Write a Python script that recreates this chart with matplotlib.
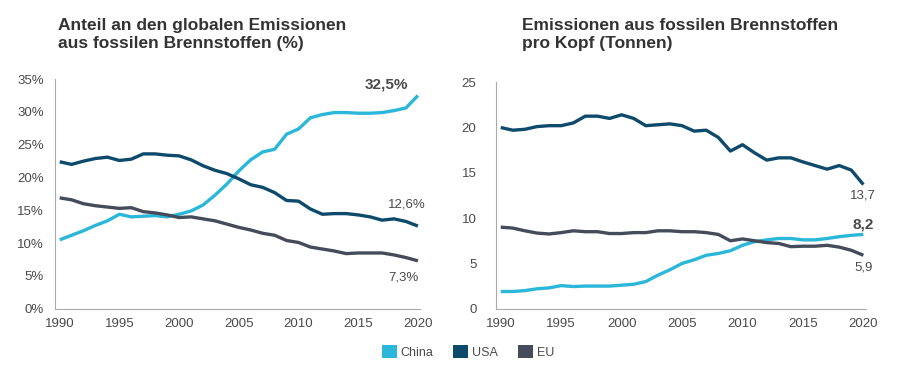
import matplotlib
matplotlib.use('Agg')
import matplotlib.pyplot as plt
from matplotlib.patches import Patch

plt.rcParams['font.family'] = ['Liberation Sans', 'DejaVu Sans']

years = list(range(1990, 2021))

# Anteil an den globalen Emissionen (%)
share_china = [10.5, 11.2, 11.9, 12.7, 13.4, 14.4, 14.0, 14.1, 14.2, 14.0,
               14.4, 14.9, 15.8, 17.3, 19.0, 21.0, 22.7, 23.9, 24.3, 26.6,
               27.4, 29.1, 29.6, 29.9, 29.9, 29.8, 29.8, 29.9, 30.2, 30.6, 32.5]
share_usa = [22.4, 22.0, 22.5, 22.9, 23.1, 22.6, 22.8, 23.6, 23.6, 23.4,
             23.3, 22.7, 21.8, 21.1, 20.6, 19.8, 18.9, 18.5, 17.7, 16.5,
             16.4, 15.2, 14.4, 14.5, 14.5, 14.3, 14.0, 13.5, 13.7, 13.3, 12.6]
share_eu = [16.9, 16.6, 16.0, 15.7, 15.5, 15.3, 15.4, 14.8, 14.6, 14.3,
            13.9, 14.0, 13.7, 13.4, 12.9, 12.4, 12.0, 11.5, 11.2, 10.4,
            10.1, 9.4, 9.1, 8.8, 8.4, 8.5, 8.5, 8.5, 8.2, 7.8, 7.3]

# Emissionen pro Kopf (Tonnen)
pc_china = [1.9, 1.9, 2.0, 2.2, 2.3, 2.55, 2.45, 2.5, 2.5, 2.5,
            2.6, 2.7, 3.0, 3.7, 4.3, 5.0, 5.4, 5.9, 6.1, 6.4,
            7.0, 7.4, 7.6, 7.75, 7.75, 7.6, 7.6, 7.75, 7.95, 8.1, 8.2]
pc_usa = [20.0, 19.7, 19.8, 20.1, 20.2, 20.2, 20.5, 21.25, 21.25, 21.0,
          21.4, 21.0, 20.2, 20.3, 20.4, 20.2, 19.6, 19.7, 18.9, 17.4,
          18.1, 17.2, 16.4, 16.65, 16.65, 16.2, 15.8, 15.4, 15.8, 15.3, 13.7]
pc_eu = [9.0, 8.9, 8.6, 8.35, 8.25, 8.4, 8.6, 8.5, 8.5, 8.3,
         8.3, 8.4, 8.4, 8.6, 8.6, 8.5, 8.5, 8.4, 8.2, 7.5,
         7.7, 7.5, 7.3, 7.2, 6.85, 6.9, 6.9, 7.0, 6.8, 6.45, 5.9]

labels = ['China', 'USA', 'EU']
colors = ['#2ab7d9', '#0e4a6c', '#444c5b']

fig = plt.figure(figsize=(9, 3.84), dpi=100)
ax1 = fig.add_axes([0.061, 0.196, 0.406, 0.598])
ax2 = fig.add_axes([0.551, 0.196, 0.411, 0.590])

txt = '#4a4a4a'

def style(ax, ymax, step, fmt):
    ax.set_xlim(1989.6, 2020.2)
    ax.set_ylim(0, ymax)
    ax.set_yticks(range(0, ymax + 1, step))
    ax.set_yticklabels([fmt.format(v) for v in range(0, ymax + 1, step)])
    ax.set_xticks(range(1990, 2021, 5))
    for s in ['top', 'right']:
        ax.spines[s].set_visible(False)
    for s in ['left', 'bottom']:
        ax.spines[s].set_color('#aaaaaa')
        ax.spines[s].set_linewidth(0.8)
    ax.tick_params(length=0, labelsize=9.5, colors=txt)
    ax.tick_params(axis='x', pad=7)

for ax, data in [(ax1, [share_china, share_usa, share_eu]),
                 (ax2, [pc_china, pc_usa, pc_eu])]:
    for vals, c in zip(data, colors):
        ax.plot(years, vals, color=c, lw=2.4, solid_capstyle='butt')

style(ax1, 35, 5, '{}%')
style(ax2, 25, 5, '{}')
ax1.tick_params(axis='y', pad=8)
ax2.tick_params(axis='y', pad=14)

ax1.text(2017.4, 34.2, '32,5%', ha='center', va='center', fontsize=11,
         fontweight='bold', color=txt)
ax1.text(2019.1, 15.9, '12,6%', ha='center', va='center', fontsize=9.5, color=txt)
ax1.text(2018.8, 4.7, '7,3%', ha='center', va='center', fontsize=9.5, color=txt)

ax2.text(2020, 12.5, '13,7', ha='center', va='center', fontsize=9.5, color=txt)
ax2.text(2020, 9.3, '8,2', ha='center', va='center', fontsize=11,
         fontweight='bold', color=txt)
ax2.text(2020, 4.5, '5,9', ha='center', va='center', fontsize=9.5, color=txt)

fig.text(0.064, 0.952, 'Anteil an den globalen Emissionen\naus fossilen Brennstoffen (%)',
         ha='left', va='top', fontsize=12.5, fontweight='bold', color='#333333',
         linespacing=1.25)
fig.text(0.58, 0.952, 'Emissionen aus fossilen Brennstoffen\npro Kopf (Tonnen)',
         ha='left', va='top', fontsize=12.5, fontweight='bold', color='#333333',
         linespacing=1.25)

handles = [Patch(facecolor=c, edgecolor='none') for c in colors]
fig.legend(handles, labels, loc='center', bbox_to_anchor=(0.52, 0.083), ncol=3,
           frameon=False, fontsize=9, handlelength=1.2, handleheight=1.2,
           handletextpad=0.3, columnspacing=1.6, labelcolor=txt)

fig.savefig('out.png', dpi=100)
